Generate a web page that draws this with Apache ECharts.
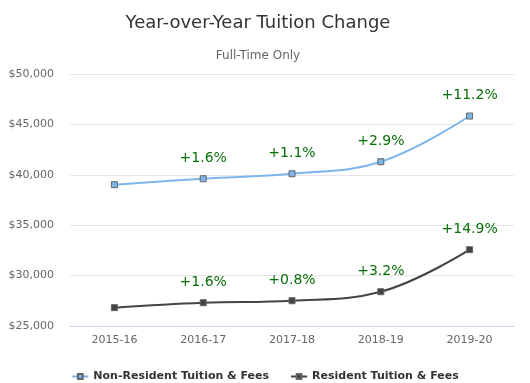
<!DOCTYPE html>
<html><head><meta charset="utf-8">
<script src="https://cdn.jsdelivr.net/npm/echarts@6/dist/echarts.min.js"></script>
<style>html,body{margin:0;padding:0;background:#fff}#c{width:530px;height:383px}</style>
</head><body><div id="c"></div>
<script>
const categories = ['2015-16','2016-17','2017-18','2018-19','2019-20'];
const nonResident = [39020, 39610, 40100, 41300, 45830];
const resident = [26820, 27310, 27510, 28400, 32570];
const nonResidentPct = [null, '+1.6%', '+1.1%', '+2.9%', '+11.2%'];
const residentPct = [null, '+1.6%', '+0.8%', '+3.2%', '+14.9%'];
const yTicks = [25000, 30000, 35000, 40000, 45000, 50000];

const FONT = '"DejaVu Sans", Verdana, sans-serif';
const chart = echarts.init(document.getElementById('c'));
function pctLabel(arr){
  return {
    show: true, position: 'top', distance: 10,
    color: '#087008', fontSize: 14, fontFamily: FONT,
    formatter: p => arr[p.dataIndex] || ''
  };
}
chart.setOption({
  animation: false,
  textStyle: {fontFamily: FONT},
  title: [
    {text: 'Year-over-Year Tuition Change', left: 253, textAlign: 'center', top: 9,
     textStyle: {fontSize: 18, fontWeight: 'normal', color: '#333', fontFamily: FONT}},
    {text: 'Full-Time Only', left: 253, textAlign: 'center', top: 45,
     textStyle: {fontSize: 12, fontWeight: 'normal', color: '#666', fontFamily: FONT}}
  ],
  grid: {left: 70, right: 16, top: 74, bottom: 57},
  legend: {
    top: 366, left: 'center', itemGap: 21, itemWidth: 16, itemHeight: 6,
    textStyle: {fontSize: 11, fontWeight: 'bold', color: '#333', fontFamily: FONT}
  },
  xAxis: {
    type: 'category', data: categories, boundaryGap: true,
    axisLine: {lineStyle: {color: '#ccd6eb'}},
    axisTick: {show: false},
    axisLabel: {color: '#666', fontSize: 11, margin: 9, fontFamily: FONT}
  },
  yAxis: {
    type: 'value', min: yTicks[0], max: yTicks[yTicks.length-1], interval: 5000,
    axisLine: {show: false}, axisTick: {show: false},
    splitLine: {lineStyle: {color: '#e6e6e6'}},
    axisLabel: {color: '#666', fontSize: 11, margin: 16, fontFamily: FONT,
      formatter: v => '$' + v.toLocaleString('en-US')}
  },
  series: [
    {name: 'Non-Resident Tuition & Fees', type: 'line', data: nonResident, smooth: 0.4,
     symbol: 'rect', symbolSize: 6,
     lineStyle: {color: '#7cb5ec', width: 2},
     itemStyle: {color: '#7cb5ec', borderColor: '#666', borderWidth: 1},
     label: pctLabel(nonResidentPct)},
    {name: 'Resident Tuition & Fees', type: 'line', data: resident, smooth: 0.4,
     symbol: 'rect', symbolSize: 6,
     lineStyle: {color: '#434348', width: 2},
     itemStyle: {color: '#434348', borderColor: '#666', borderWidth: 1},
     label: pctLabel(residentPct)}
  ]
});
</script></body></html>
